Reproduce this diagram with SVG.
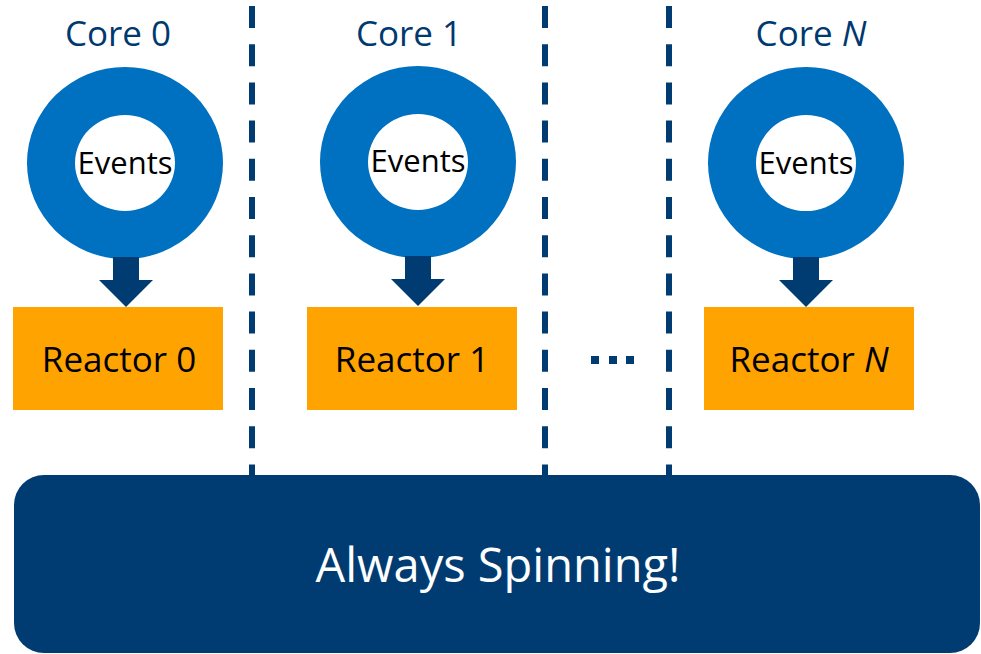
<svg xmlns="http://www.w3.org/2000/svg" width="981" height="654" viewBox="0 0 981 654">
<style>
.core{font-family:"Open Sans","Noto Sans",sans-serif;font-size:35px;fill:#00396F;text-anchor:middle}
.ev{font-family:"Open Sans","Noto Sans",sans-serif;font-size:31px;fill:#000;text-anchor:middle}
.rt{font-family:"Open Sans","Noto Sans",sans-serif;font-size:35px;fill:#000;text-anchor:middle}
.ring{fill:#0070C0;fill-rule:evenodd}
.box{fill:#FFA300}
.arrow{fill:#003C71}
.dash{stroke:#003C71;stroke-width:6;stroke-dasharray:22 16.2;fill:none}
</style>
<rect width="981" height="654" fill="#fff"/>
<g id="separators">
<line class="dash" x1="252" y1="6" x2="252" y2="476"/>
<line class="dash" x1="545" y1="6" x2="545" y2="476"/>
<line class="dash" x1="669" y1="6" x2="669" y2="476"/>
</g>
<g id="core0">
<text class="core" x="118" y="46">Core 0</text>
<path class="ring" d="M27,163a98,96 0 1,0 196,0a98,96 0 1,0 -196,0ZM75,163a50,48 0 1,0 100,0a50,48 0 1,0 -100,0Z"/>
<text class="ev" x="125" y="174">Events</text>
</g>
<g id="core1">
<text class="core" x="409" y="46">Core 1</text>
<path class="ring" d="M320,162a98,96 0 1,0 196,0a98,96 0 1,0 -196,0ZM368,162a50,48 0 1,0 100,0a50,48 0 1,0 -100,0Z"/>
<text class="ev" x="418" y="172">Events</text>
</g>
<g id="coreN">
<text class="core" x="811" y="46">Core <tspan font-style="italic">N</tspan></text>
<path class="ring" d="M708,163a98,96 0 1,0 196,0a98,96 0 1,0 -196,0ZM756,163a50,48 0 1,0 100,0a50,48 0 1,0 -100,0Z"/>
<text class="ev" x="806" y="174">Events</text>
</g>
<g id="connectors">
<polygon class="arrow" points="113,257 139,257 139,280 153,280 126,307 99,280 113,280"/>
<polygon class="arrow" points="405,256 431,256 431,279 445,279 418,306 391,279 405,279"/>
<polygon class="arrow" points="793,257 819,257 819,280 833,280 806,307 779,280 793,280"/>
</g>
<g id="reactor0">
<rect class="box" x="13" y="307" width="210" height="103"/>
<text class="rt" x="119" y="372">Reactor 0</text>
</g>
<g id="reactor1">
<rect class="box" x="307" y="307" width="210" height="103"/>
<text class="rt" x="412" y="372">Reactor 1</text>
</g>
<g id="ellipsis">
<rect x="591" y="356" width="8" height="8" fill="#003C71"/>
<rect x="609" y="356" width="8" height="8" fill="#003C71"/>
<rect x="626" y="356" width="8" height="8" fill="#003C71"/>
</g>
<g id="reactorN">
<rect class="box" x="704" y="307" width="210" height="103"/>
<text class="rt" x="809" y="372">Reactor <tspan font-style="italic">N</tspan></text>
</g>
<g id="spinning">
<rect x="14" y="475" width="966" height="178" rx="30" ry="30" fill="#003C71"/>
<text x="498" y="582" font-family="Open Sans, Noto Sans, sans-serif" font-size="47" fill="#fff" text-anchor="middle">Always Spinning!</text>
</g>
</svg>
